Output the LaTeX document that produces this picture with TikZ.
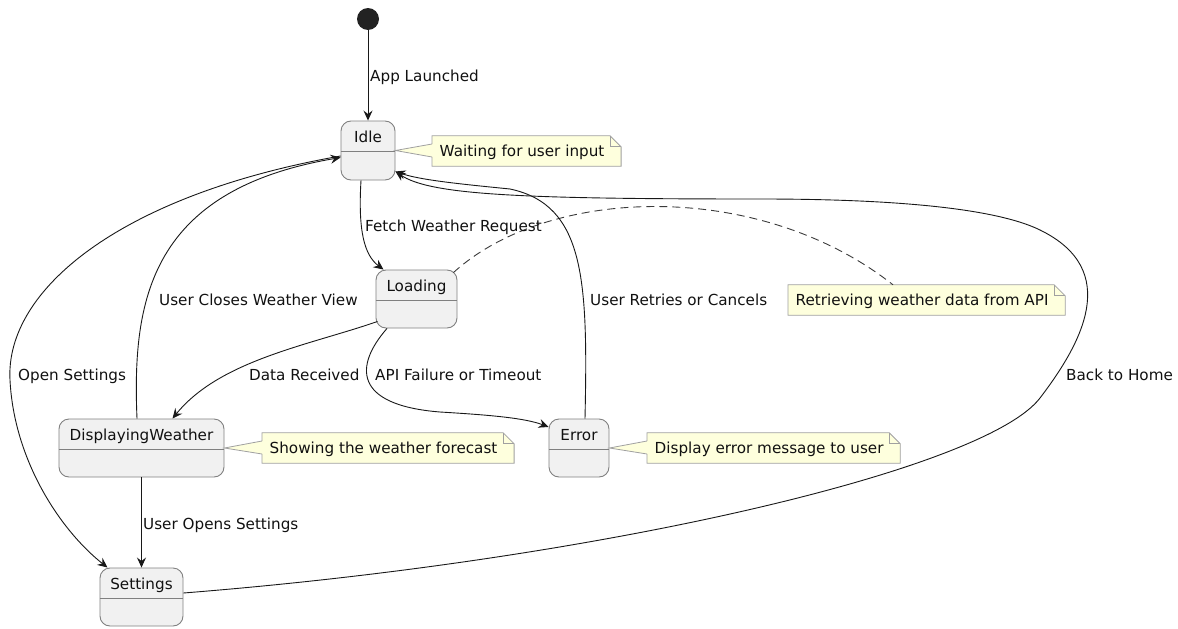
\documentclass[tikz,border=0pt]{standalone}
\usepackage{fontspec}
\setmainfont{DejaVu Sans}
\usetikzlibrary{arrows.meta,backgrounds}
\definecolor{statefill}{HTML}{F1F1F1}
\definecolor{stateline}{HTML}{808080}
\definecolor{notefill}{HTML}{FEFFDD}
\definecolor{noteline}{HTML}{A0A0A0}
\definecolor{edgecol}{HTML}{181818}
\definecolor{startfill}{HTML}{222222}
\definecolor{txt}{HTML}{111111}
\tikzset{
  statebox/.style={draw=stateline, fill=statefill, line width=0.9pt, rounded corners=10pt, inner sep=0pt},
  titletext/.style={anchor=base, inner sep=0pt, text=txt},
  lbl/.style={anchor=base west, inner sep=0pt, text=txt},
  notebox/.style={anchor=west, inner xsep=7.5pt, inner ysep=0pt, minimum height=30pt, text height=11.5pt, text depth=0pt, text=txt},
  edge/.style={draw=edgecol, line width=0.9pt, -{Stealth[length=10pt,width=9pt,inset=3.5pt]}},
  divider/.style={draw=stateline, line width=0.9pt},
}
\newcommand\mknote[3]{%
  \node[notebox] (#1) at (#2) {#3\rule{9pt}{0pt}};
  \begin{pgfonlayer}{background}
    \filldraw[fill=notefill, draw=noteline, line width=0.8pt] (#1.south west) -- (#1.north west) -- ([xshift=-11pt]#1.north east) -- ([yshift=-11pt]#1.north east) -- (#1.south east) -- cycle;
    \draw[noteline, line width=0.8pt] ([xshift=-11pt]#1.north east) |- ([yshift=-11pt]#1.north east);
  \end{pgfonlayer}}
\newcommand\mkwedge[2]{%
  \fill[notefill] (#1) -- ([yshift=7pt,xshift=0.8pt]#2.west) -- ([yshift=-6pt,xshift=0.8pt]#2.west) -- cycle;
  \draw[noteline, line width=0.8pt] ([yshift=7pt]#2.west) -- (#1) -- ([yshift=-6pt]#2.west);}
\newcommand\mkstate[6]{% name, center, width, height, title
  \node[statebox, minimum width=#3pt, minimum height=#4pt] (#1) at (#2) {};
  \node[titletext] (#1title) at ([yshift=-21.5pt]#1.north) {#5};
  \draw[divider] ([yshift=-31pt]#1.north west) -- ([yshift=-31pt]#1.north east);}
\begin{document}
\begin{tikzpicture}[x=1pt,y=-1pt,font=\fontsize{15.2}{17}\selectfont]
\useasboundingbox (0,0) rectangle (1178,629);

% start
\node[circle, fill=startfill, minimum size=22pt, inner sep=0pt] (start) at (368,19) {};

% states
\mkstate{idle}{368,150.5}{54}{59}{Idle}{}
\mkstate{loading}{416.5,299}{81}{58}{Loading}{}
\mkstate{dw}{141.5,448}{165}{58}{DisplayingWeather}{}
\mkstate{error}{579,448}{60}{58}{Error}{}
\mkstate{settings}{141.5,597}{83}{58}{Settings}{}

% notes
\mknote{idlenote}{432,151}{Waiting for user input}
\mkwedge{idle.east}{idlenote}
\mknote{loadnote}{788,300}{Retrieving weather data from API}
\mknote{dwnote}{262,448}{Showing the weather forecast}
\mkwedge{dw.east}{dwnote}
\mknote{errnote}{647,448}{Display error message to user}
\mkwedge{error.east}{errnote}

% dashed note link
\draw[edgecol!85, line width=0.9pt, dash pattern=on 8pt off 5pt]
  ([shift={(-4pt,-3pt)}]loading.north east) .. controls (550,185) and (760,180) .. ([xshift=105pt]loadnote.north west);

% edges
\draw[edge] (start.south) -- (idle.north);
\draw[edge] ([xshift=-7pt]idle.south) .. controls (358,230) and (364,255) .. ([xshift=-33pt]loading.north);
\draw[edge] ([shift={(2pt,7pt)}]loading.south west) .. controls (310,345) and (220,360) .. ([xshift=31pt]dw.north);
\draw[edge] ([xshift=-29.5pt]loading.south) .. controls (355,365) and (352,405) .. (440,412)
  .. controls (490,415) and (525,418) .. ([yshift=21pt]error.west);
\draw[edge] ([xshift=6pt]error.north) .. controls (588,280) and (585,205) .. (510,189)
  .. controls (460,184) and (420,180) .. ([yshift=-21pt]idle.east);
\draw[edge] ([xshift=-4.5pt]dw.north) .. controls (132,300) and (150,190) .. ([yshift=-7pt]idle.west);
\draw[edge] ([yshift=-5.5pt]idle.west) .. controls (120,195) and (5,290) .. (10,380)
  .. controls (14,460) and (60,530) .. ([xshift=-34pt]settings.north);
\draw[edge] (dw.south) -- (settings.north);
\draw[edge] ([yshift=4pt]settings.east) .. controls (600,560) and (985,470) .. (1040,398)
  .. controls (1082,343) and (1122,270) .. (1040,230)
  .. controls (985,203) and (850,199) .. (760,199)
  .. controls (520,199) and (430,195) .. ([yshift=-21pt]idle.east);

% labels
\node[lbl] (l1) at (370,81) {App Launched};
\node[lbl] (l2) at (365,231) {Fetch Weather Request};
\node[lbl] (l3) at (159,305) {User Closes Weather View};
\node[lbl] (l4) at (590,305) {User Retries or Cancels};
\node[lbl] (l5) at (249,380) {Data Received};
\node[lbl] (l6) at (375,380) {API Failure or Timeout};
\node[lbl] (l7) at (18,380) {Open Settings};
\node[lbl] (l8) at (1066,380) {Back to Home};
\node[lbl] (l9) at (143,529) {User Opens Settings};
\end{tikzpicture}
\end{document}
